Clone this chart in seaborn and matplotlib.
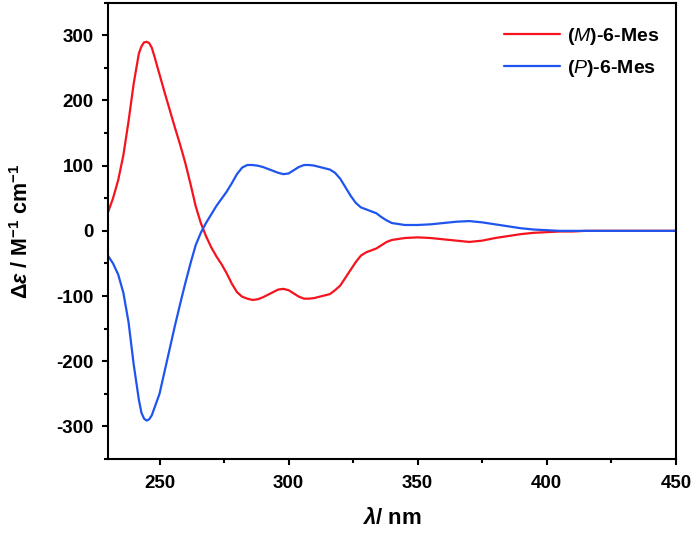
import numpy as np
import pandas as pd
import matplotlib
matplotlib.use('Agg')
import matplotlib.pyplot as plt
from matplotlib.ticker import MultipleLocator
import seaborn as sns

# wavelength (nm) and CD values
wl = [230, 232, 234, 236, 238, 240, 242, 243, 244, 245, 246, 247, 248, 250,
      252, 254, 256, 258, 260, 262, 264, 266, 268, 270, 272, 274, 276, 278,
      280, 282, 284, 286, 288, 290, 292, 294, 296, 298, 300, 302, 304, 306,
      308, 310, 312, 314, 316, 318, 320, 322, 324, 326, 328, 330, 332, 334,
      336, 338, 340, 345, 350, 355, 360, 365, 370, 375, 380, 385, 390, 395,
      400, 405, 410, 415, 420, 430, 440, 450]

m_mes = [28, 50, 78, 116, 168, 226, 272, 283, 289, 290, 288, 281, 268, 240,
         212, 185, 158, 132, 104, 72, 38, 12, -8, -25, -39, -51, -65, -81,
         -94, -101, -104, -106, -105, -102, -98, -94, -90, -89, -91, -96, -101, -104,
         -104, -103, -101, -99, -97, -91, -84, -72, -60, -48, -38, -33, -30, -27,
         -22, -17, -14, -11, -10, -11, -13, -15, -17, -15, -11, -8, -5, -3,
         -2, -1, -1, 0, 0, 0, 0, 0]

p_mes = [-38, -50, -67, -95, -140, -205, -259, -279, -288, -291, -289, -283, -272, -250,
         -215, -180, -145, -112, -80, -50, -22, -3, 12, 25, 38, 49, 60, 73,
         87, 97, 101, 101, 100, 98, 95, 92, 89, 87, 88, 93, 98, 101,
         101, 100, 98, 96, 94, 89, 80, 67, 54, 43, 36, 33, 30, 27,
         21, 16, 12, 9, 9, 10, 12, 14, 15, 13, 10, 7, 4, 2,
         1, 0, 0, 0, 0, 0, 0, 0]

labels = [r'($\mathit{M}$)-6-Mes', r'($\mathit{P}$)-6-Mes']

df = pd.DataFrame({
    'wl': wl * 2,
    'de': m_mes + p_mes,
    'sample': [labels[0]] * len(wl) + [labels[1]] * len(wl),
})

sns.set_style('ticks')
plt.rcParams['font.family'] = ['Liberation Sans', 'DejaVu Sans']
plt.rcParams['axes.unicode_minus'] = False
plt.rcParams['text.color'] = 'black'
plt.rcParams['axes.labelcolor'] = 'black'
plt.rcParams['xtick.color'] = 'black'
plt.rcParams['ytick.color'] = 'black'
plt.rcParams['mathtext.fontset'] = 'custom'
plt.rcParams['mathtext.rm'] = 'Liberation Sans'
plt.rcParams['mathtext.it'] = 'Liberation Sans:italic'
plt.rcParams['mathtext.bf'] = 'Liberation Sans:bold'
plt.rcParams['mathtext.bfit'] = 'Liberation Sans:italic:bold'

fig = plt.figure(figsize=(6.96, 5.35), dpi=100)
ax = fig.add_axes([0.155, 0.142, 0.816, 0.853])

sns.lineplot(data=df, x='wl', y='de', hue='sample',
             palette=['#f5141e', '#1f55ee'], linewidth=1.6, ax=ax)

ax.set_xlim(230, 450)
ax.set_ylim(-350, 350)
ax.xaxis.set_major_locator(MultipleLocator(50))
ax.xaxis.set_minor_locator(MultipleLocator(25))
ax.yaxis.set_major_locator(MultipleLocator(100))
ax.yaxis.set_minor_locator(MultipleLocator(50))

for s in ax.spines.values():
    s.set_linewidth(1.5)
    s.set_color('black')
ax.tick_params(which='major', length=4.5, width=1.5, labelsize=13.5, direction='out', pad=5.5)
ax.tick_params(axis='x', which='major', pad=7)
ax.tick_params(which='minor', length=3, width=1.5, direction='out')
for t in ax.get_xticklabels() + ax.get_yticklabels():
    t.set_fontweight('bold')

ax.set_xlabel(r'$\mathbfit{\lambda}$/ nm', fontsize=16, fontweight='bold')
ax.set_ylabel(r'$\mathbf{\Delta}\mathbfit{\varepsilon}$ / M$^{\mathbf{-1}}$ cm$^{\mathbf{-1}}$',
              fontsize=15.5, fontweight='bold')
ax.xaxis.set_label_coords(0.5, -0.108)
ax.yaxis.set_label_coords(-0.132, 0.5)

leg = ax.legend(loc='upper right', bbox_to_anchor=(0.985, 0.967), borderaxespad=0,
                frameon=False, fontsize=14,
                handlelength=2.9, handletextpad=0.35, labelspacing=0.6)
for t in leg.get_texts():
    t.set_fontweight('bold')
for h in leg.get_lines():
    h.set_linewidth(1.6)

fig.savefig('out.png', dpi=100)
